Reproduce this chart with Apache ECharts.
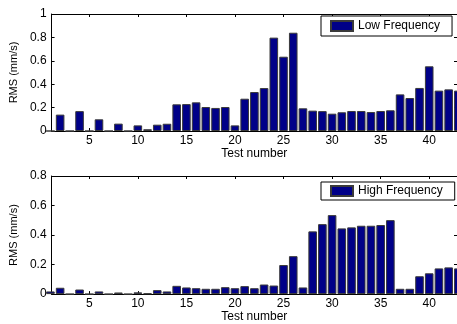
<!DOCTYPE html>
<html>
<head>
<meta charset="utf-8">
<script src="https://cdn.jsdelivr.net/npm/echarts@6/dist/echarts.min.js"></script>
<style>
  html, body { margin: 0; padding: 0; background: #fff; }
  #chart { width: 457px; height: 324px; }
</style>
</head>
<body>
<div id="chart"></div>
<script>
// test numbers on the x axis
const testNumbers = [1, 2, 3, 4, 5, 6, 7, 8, 9, 10, 11, 12, 13, 14, 15, 16, 17, 18, 19, 20, 21,
  22, 23, 24, 25, 26, 27, 28, 29, 30, 31, 32, 33, 34, 35, 36, 37, 38, 39, 40, 41, 42, 43];
// RMS (mm/s), low frequency band
const lowFreq = [0, 0.14, 0, 0.17, 0, 0.10, 0, 0.063, 0, 0.048, 0.015, 0.054, 0.062, 0.228,
  0.23, 0.245, 0.205, 0.197, 0.205, 0.048, 0.276, 0.333, 0.367, 0.798, 0.635, 0.84, 0.194,
  0.174, 0.17, 0.148, 0.16, 0.171, 0.171, 0.162, 0.171, 0.177, 0.313, 0.282, 0.368, 0.553,
  0.345, 0.356, 0.345];
// RMS (mm/s), high frequency band
const highFreq = [0.018, 0.043, 0, 0.031, 0, 0.018, 0, 0.011, 0, 0.012, 0.005, 0.027, 0.018,
  0.056, 0.045, 0.04, 0.036, 0.036, 0.047, 0.04, 0.054, 0.04, 0.065, 0.058, 0.197, 0.257,
  0.045, 0.425, 0.474, 0.535, 0.445, 0.452, 0.463, 0.463, 0.468, 0.501, 0.036, 0.036, 0.121,
  0.141, 0.174, 0.181, 0.174];
const xTicks = [5, 10, 15, 20, 25, 30, 35, 40];

const font = 'Liberation Sans, Arial, Helvetica, sans-serif';
const barColor = '#000088';

function pairs(vals) {
  return testNumbers.map(function (x, i) { return [x, vals[i]]; });
}

function xAxisFor(gridIndex, bottom) {
  return {
    type: 'value',
    gridIndex: gridIndex,
    position: bottom ? 'bottom' : 'top',
    min: 1.12,
    max: 42.86,
    name: bottom ? 'Test number' : '',
    nameLocation: 'middle',
    nameGap: 16,
    nameTextStyle: { color: '#000', fontFamily: font, fontSize: 12 },
    splitLine: { show: false },
    axisLine: { show: true, onZero: false, lineStyle: { color: '#000', width: 1 } },
    axisTick: { show: true, inside: true, length: 3, customValues: xTicks, lineStyle: { color: '#000' } },
    axisLabel: { show: bottom, customValues: xTicks, margin: 4, color: '#000', fontFamily: font, fontSize: 12 }
  };
}

function yAxisFor(gridIndex, max, left) {
  return {
    type: 'value',
    gridIndex: gridIndex,
    position: left ? 'left' : 'right',
    min: 0,
    max: max,
    interval: 0.2,
    name: left ? 'RMS (mm/s)' : '',
    nameLocation: 'middle',
    nameGap: 28,
    nameTextStyle: { color: '#000', fontFamily: font, fontSize: 11 },
    splitLine: { show: false },
    axisLine: { show: true, onZero: false, lineStyle: { color: '#000', width: 1 } },
    axisTick: { show: true, inside: true, length: 3, lineStyle: { color: '#000' } },
    axisLabel: { show: left, margin: 5, color: '#000', fontFamily: font, fontSize: 12 }
  };
}

function legendFor(name, top, padV) {
  return {
    data: [name],
    left: 321,
    top: top,
    orient: 'horizontal',
    icon: 'rect',
    itemWidth: 22,
    itemHeight: 10,
    padding: [padV, 12, padV, 9],
    backgroundColor: '#fff',
    borderColor: '#000',
    borderWidth: 1,
    borderRadius: 0,
    selectedMode: false,
    textStyle: { color: '#000', fontFamily: font, fontSize: 12 }
  };
}

function barSeries(name, vals, idx) {
  return {
    name: name,
    type: 'bar',
    xAxisIndex: idx * 2,
    yAxisIndex: idx * 2,
    data: pairs(vals),
    barWidth: 8.6,
    clip: true,
    animation: false,
    itemStyle: { color: barColor, borderColor: '#3a3a3a', borderWidth: 1 }
  };
}

const chart = echarts.init(document.getElementById('chart'));
chart.setOption({
  backgroundColor: '#fff',
  animation: false,
  textStyle: { fontFamily: font },
  grid: [
    { left: 48, top: 14, right: -1, height: 117 },
    { left: 48, top: 176, right: -1, height: 119 }
  ],
  legend: [legendFor('Low Frequency', 16, 4), legendFor('High Frequency', 182, 3)],
  xAxis: [xAxisFor(0, true), xAxisFor(0, false), xAxisFor(1, true), xAxisFor(1, false)],
  yAxis: [yAxisFor(0, 1, true), yAxisFor(0, 1, false), yAxisFor(1, 0.8, true), yAxisFor(1, 0.8, false)],
  series: [barSeries('Low Frequency', lowFreq, 0), barSeries('High Frequency', highFreq, 1)]
});
</script>
</body>
</html>
